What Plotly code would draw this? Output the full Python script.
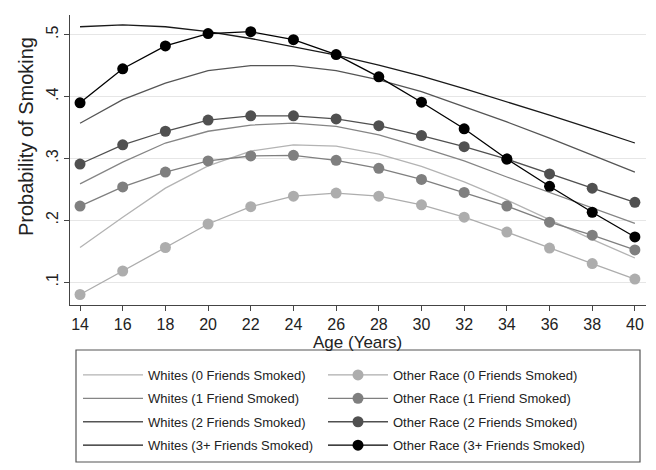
import plotly.graph_objects as go

ages = [14, 16, 18, 20, 22, 24, 26, 28, 30, 32, 34, 36, 38, 40]

whites_0 = [0.156, 0.205, 0.252, 0.288, 0.312, 0.322, 0.320, 0.307, 0.287, 0.262, 0.233, 0.201, 0.169, 0.139]
whites_1 = [0.259, 0.294, 0.325, 0.344, 0.354, 0.357, 0.352, 0.338, 0.318, 0.296, 0.270, 0.245, 0.221, 0.195]
whites_2 = [0.357, 0.395, 0.422, 0.442, 0.450, 0.450, 0.442, 0.427, 0.408, 0.384, 0.359, 0.333, 0.305, 0.278]
whites_3 = [0.513, 0.516, 0.513, 0.505, 0.494, 0.481, 0.467, 0.451, 0.433, 0.413, 0.392, 0.370, 0.348, 0.325]

other_0 = [0.080, 0.118, 0.156, 0.194, 0.222, 0.239, 0.244, 0.239, 0.225, 0.205, 0.181, 0.155, 0.130, 0.105]
other_1 = [0.223, 0.254, 0.278, 0.296, 0.304, 0.305, 0.297, 0.284, 0.266, 0.245, 0.223, 0.197, 0.176, 0.152]
other_2 = [0.291, 0.322, 0.344, 0.362, 0.369, 0.369, 0.364, 0.353, 0.337, 0.319, 0.299, 0.275, 0.252, 0.229]
other_3 = [0.390, 0.445, 0.482, 0.502, 0.505, 0.492, 0.468, 0.432, 0.391, 0.348, 0.299, 0.255, 0.213, 0.173]

white_names = ["Whites (0 Friends Smoked)", "Whites (1 Friend Smoked)",
               "Whites (2 Friends Smoked)", "Whites (3+ Friends Smoked)"]
other_names = ["Other Race (0 Friends Smoked)", "Other Race (1 Friend Smoked)",
               "Other Race (2 Friends Smoked)", "Other Race (3+ Friends Smoked)"]

y_ticks = [0.1, 0.2, 0.3, 0.4, 0.5]
y_tick_labels = [".1", ".2", ".3", ".4", ".5"]

shades = ["#adadad", "#7f7f7f", "#505050", "#000000"]
white_shades = ["#b3b3b3", "#858585", "#555555", "#1a1a1a"]

whites = [whites_0, whites_1, whites_2, whites_3]
others = [other_0, other_1, other_2, other_3]

fig = go.Figure()
for i in range(4):
    fig.add_trace(go.Scatter(
        x=ages, y=whites[i], mode="lines", name=white_names[i],
        line=dict(color=white_shades[i], width=1.3),
        legend="legend", legendgroup="w%d" % i,
    ))
for i in range(4):
    fig.add_trace(go.Scatter(
        x=ages, y=others[i], mode="lines+markers", name=other_names[i],
        line=dict(color=shades[i], width=1.3),
        marker=dict(color=shades[i], size=11),
        legend="legend2", legendgroup="o%d" % i,
    ))

font_family = "Liberation Sans, Arial, sans-serif"

# The page body adds an 8px offset; figure is 648x462 so it fills the window.
# plot area on screen: x 70..646, y 15..305 (px)
def px_x(p):
    return (p - 70) / 576.0

def px_y(p):
    return (305 - p) / 290.0

legend_common = dict(
    orientation="v", yanchor="top", xanchor="left",
    bgcolor="rgba(0,0,0,0)", borderwidth=0,
    font=dict(size=13, family=font_family, color="#222222"),
    itemwidth=60, tracegroupgap=3.5,
)

fig.update_layout(
    width=648, height=462,
    margin=dict(l=62, r=10, t=7, b=165, autoexpand=False),
    paper_bgcolor="white", plot_bgcolor="white",
    font=dict(family=font_family, color="#222222", size=16),
    showlegend=True,
    legend=dict(x=px_x(78), y=px_y(360), **legend_common),
    legend2=dict(x=px_x(323), y=px_y(360), **legend_common),
    shapes=[dict(type="rect", xref="paper", yref="paper",
                 x0=px_x(76), x1=px_x(640), y0=px_y(350), y1=px_y(462),
                 line=dict(color="#555555", width=1.2), fillcolor="rgba(0,0,0,0)")],
    annotations=[
        dict(text="Probability of Smoking", textangle=-90,
             xref="paper", yref="paper", x=px_x(26), y=px_y(137),
             xanchor="center", yanchor="middle", showarrow=False,
             font=dict(size=20, family=font_family, color="#222222")),
        dict(text="Age (Years)",
             xref="paper", yref="paper", x=px_x(357), y=px_y(342),
             xanchor="center", yanchor="middle", showarrow=False,
             font=dict(size=17, family=font_family, color="#222222")),
    ],
    xaxis=dict(
        range=[13.53, 40.52], tickmode="array", tickvals=ages,
        ticks="outside", ticklen=5, tickwidth=1, tickcolor="#444444",
        showline=True, linecolor="#444444", linewidth=1.2,
        showgrid=False, zeroline=False, automargin=False,
        tickfont=dict(size=16),
    ),
    yaxis=dict(
        range=[0.063, 0.532], tickmode="array", tickvals=y_ticks,
        ticktext=y_tick_labels, tickangle=-90,
        ticks="outside", ticklen=5, tickwidth=1, tickcolor="#444444",
        showline=True, linecolor="#444444", linewidth=1.2,
        showgrid=True, gridcolor="#e6e6e6", gridwidth=1, zeroline=False,
        automargin=False,
        tickfont=dict(size=16),
    ),
)

fig.write_html("out.html")
